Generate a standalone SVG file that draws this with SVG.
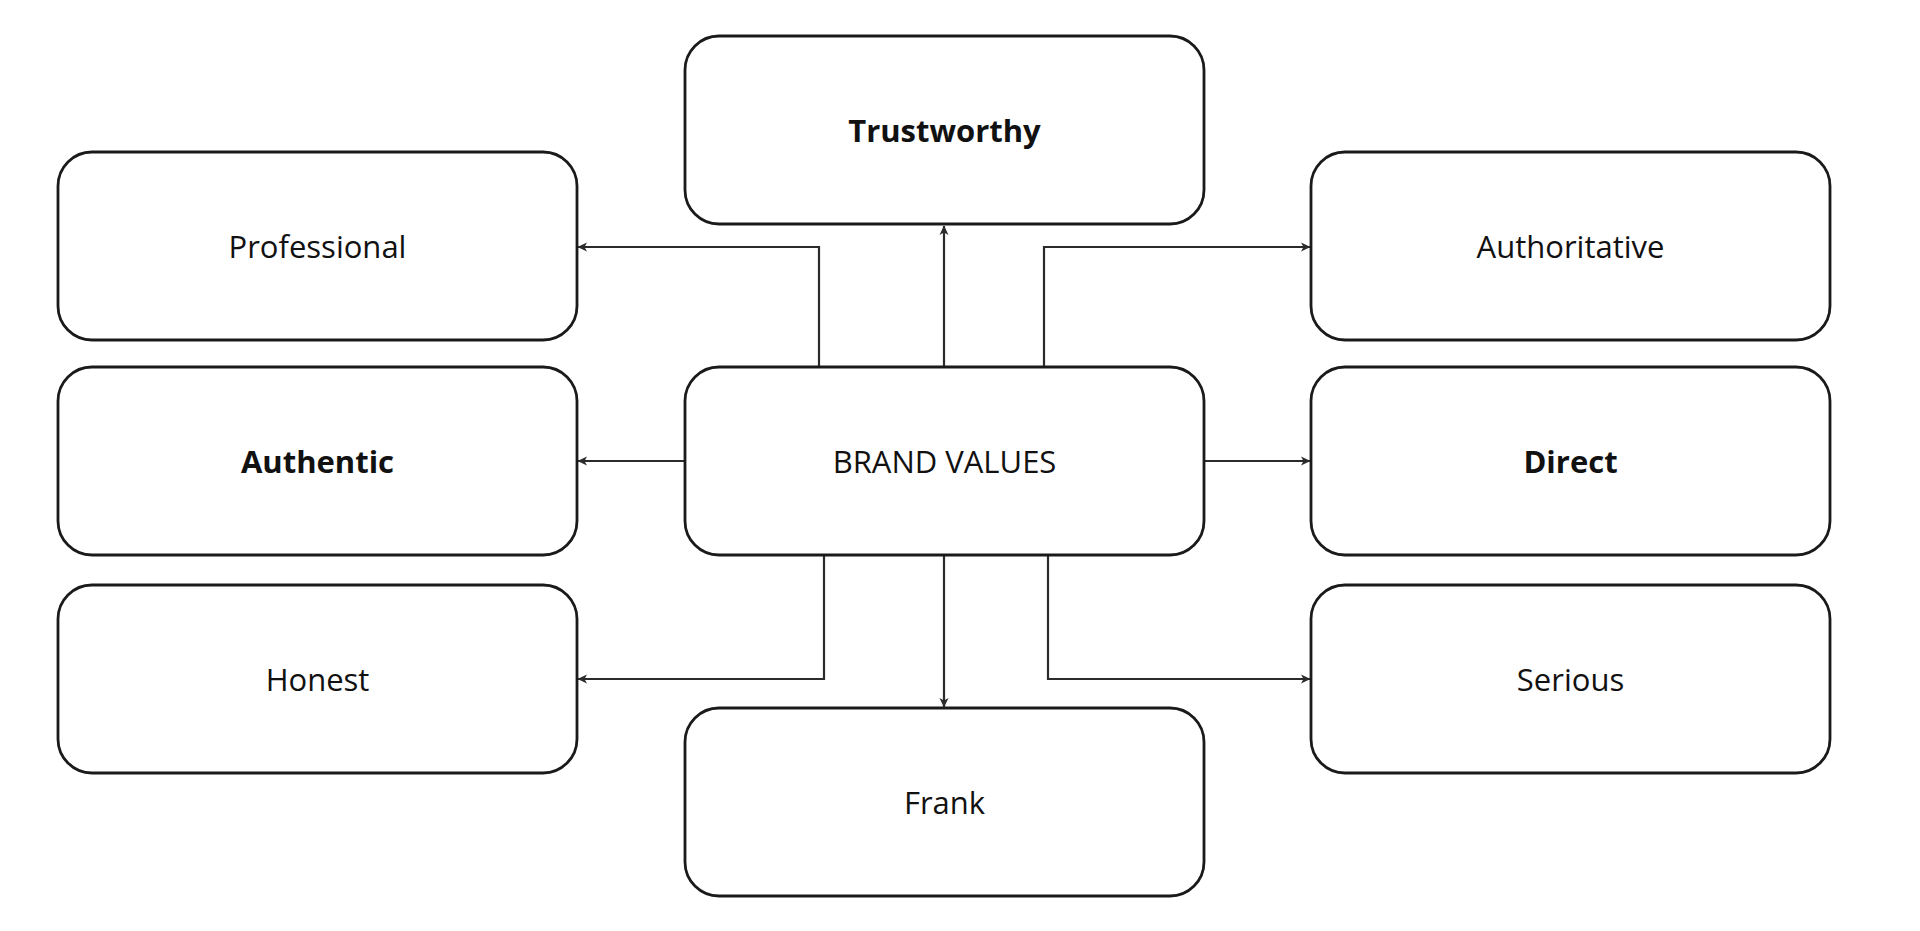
<svg xmlns="http://www.w3.org/2000/svg" width="1920" height="931" viewBox="0 0 1920 931">
<style>
.box{fill:#fff;stroke:#1a1a1a;stroke-width:2.8}
.lbl{font-family:"Open Sans","Noto Sans",sans-serif;font-size:31px;fill:#111;text-anchor:middle}
.b{font-weight:700}
.con{fill:none;stroke:#2b2b2b;stroke-width:2.2}
</style>
<defs>
<marker id="ah" markerWidth="10" markerHeight="10" refX="9" refY="5" orient="auto" markerUnits="userSpaceOnUse">
<path d="M0,0.5 L9.5,5 L0,9.5 L2.5,5 z" fill="#2b2b2b"/>
</marker>
</defs>
<rect width="1920" height="931" fill="#fff"/>
<g id="connectors">
<path class="con" d="M944,367 V226" marker-end="url(#ah)"/>
<path class="con" d="M819,367 V247 H578" marker-end="url(#ah)"/>
<path class="con" d="M1044,367 V247 H1310" marker-end="url(#ah)"/>
<path class="con" d="M685,461 H578" marker-end="url(#ah)"/>
<path class="con" d="M1204,461 H1310" marker-end="url(#ah)"/>
<path class="con" d="M824,555 V679 H578" marker-end="url(#ah)"/>
<path class="con" d="M1048,555 V679 H1310" marker-end="url(#ah)"/>
<path class="con" d="M944,555 V707" marker-end="url(#ah)"/>
</g>
<g id="trustworthy"><rect class="box" x="685" y="36" width="519" height="188" rx="34"/><text class="lbl b" x="944.5" y="141.5">Trustworthy</text></g>
<g id="professional"><rect class="box" x="58" y="152" width="519" height="188" rx="34"/><text class="lbl" x="317.5" y="257.5">Professional</text></g>
<g id="authentic"><rect class="box" x="58" y="367" width="519" height="188" rx="34"/><text class="lbl b" x="317.5" y="472.5">Authentic</text></g>
<g id="honest"><rect class="box" x="58" y="585" width="519" height="188" rx="34"/><text class="lbl" x="317.5" y="690.5">Honest</text></g>
<g id="brand-values"><rect class="box" x="685" y="367" width="519" height="188" rx="34"/><text class="lbl" x="944.5" y="472.5">BRAND VALUES</text></g>
<g id="frank"><rect class="box" x="685" y="708" width="519" height="188" rx="34"/><text class="lbl" x="944.5" y="813.5">Frank</text></g>
<g id="authoritative"><rect class="box" x="1311" y="152" width="519" height="188" rx="34"/><text class="lbl" x="1570.5" y="257.5">Authoritative</text></g>
<g id="direct"><rect class="box" x="1311" y="367" width="519" height="188" rx="34"/><text class="lbl b" x="1570.5" y="472.5">Direct</text></g>
<g id="serious"><rect class="box" x="1311" y="585" width="519" height="188" rx="34"/><text class="lbl" x="1570.5" y="690.5">Serious</text></g>
</svg>
